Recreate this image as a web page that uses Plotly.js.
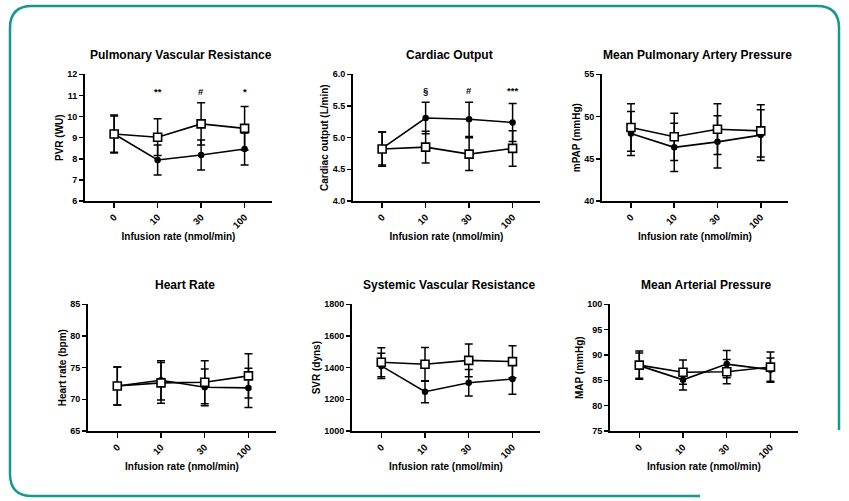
<!DOCTYPE html>
<html><head><meta charset="utf-8">
<script src="https://cdn.plot.ly/plotly-3.0.1.min.js"></script>
<style>html,body{margin:0;padding:0;background:#fff}#chart{width:849px;height:501px}</style>
</head><body><div id="chart"></div>
<script>
const categories = ['0', '10', '30', '100'];
const xTitle = 'Infusion rate (nmol/min)';

const pvrOpen = [9.17, 9.02, 9.65, 9.44];
const pvrOpenErr = [0.86, 0.87, 1.0, 1.03];
const pvrFilled = [9.17, 7.94, 8.18, 8.46];
const pvrFilledErr = [0.9, 0.71, 0.71, 0.76];
const pvrSig = ['', '**', '#', '*'];

const coOpen = [4.82, 4.85, 4.74, 4.83];
const coOpenErr = [0.27, 0.25, 0.26, 0.28];
const coFilled = [4.83, 5.31, 5.29, 5.24];
const coFilledErr = [0.26, 0.25, 0.27, 0.30];
const coSig = ['', '§', '#', '***'];

const mpapOpen = [48.7, 47.6, 48.5, 48.3];
const mpapOpenErr = [2.8, 2.8, 3.0, 3.1];
const mpapFilled = [48.0, 46.35, 47.0, 47.8];
const mpapFilledErr = [2.6, 2.85, 3.1, 3.0];

const hrOpen = [72.1, 72.6, 72.7, 73.7];
const hrOpenErr = [3.0, 3.2, 3.4, 3.5];
const hrFilled = [72.1, 73.0, 71.9, 71.8];
const hrFilledErr = [3.0, 3.1, 2.9, 3.1];

const svrOpen = [1434, 1421, 1446, 1438];
const svrOpenErr = [92, 107, 103, 101];
const svrFilled = [1411, 1248, 1305, 1328];
const svrFilledErr = [80, 69, 84, 96];

const mapOpen = [88.0, 86.6, 86.7, 87.6];
const mapOpenErr = [2.8, 2.4, 2.4, 3.0];
const mapFilled = [87.9, 85.1, 88.2, 87.1];
const mapFilledErr = [2.5, 2.0, 2.7, 2.3];

const W = 849, H = 501;
const FONT = 'Liberation Sans, Arial, sans-serif';

const panels = [
  {title: 'Pulmonary Vascular Resistance', ytitle: 'PVR (WU)', open: pvrOpen, openErr: pvrOpenErr, filled: pvrFilled, filledErr: pvrFilledErr, range: [6, 12], dtick: 1, fmt: '', sig: pvrSig, sigY: 11.2, px: [85, 272], py: [74.3, 201]},
  {title: 'Cardiac Output', ytitle: 'Cardiac output (L/min)', open: coOpen, openErr: coOpenErr, filled: coFilled, filledErr: coFilledErr, range: [4, 6], dtick: 0.5, fmt: '.1f', sig: coSig, sigY: 5.75, px: [353, 540], py: [74.3, 201]},
  {title: 'Mean Pulmonary Artery Pressure', ytitle: 'mPAP (mmHg)', open: mpapOpen, openErr: mpapOpenErr, filled: mpapFilled, filledErr: mpapFilledErr, range: [40, 55], dtick: 5, fmt: '', sig: null, px: [602, 788], py: [74.3, 201]},
  {title: 'Heart Rate', ytitle: 'Heart rate (bpm)', open: hrOpen, openErr: hrOpenErr, filled: hrFilled, filledErr: hrFilledErr, range: [65, 85], dtick: 5, fmt: '', sig: null, px: [88, 276], py: [304.3, 431]},
  {title: 'Systemic Vascular Resistance', ytitle: 'SVR (dyns)', open: svrOpen, openErr: svrOpenErr, filled: svrFilled, filledErr: svrFilledErr, range: [1000, 1800], dtick: 200, fmt: '', sig: null, px: [352, 540], py: [304.3, 431]},
  {title: 'Mean Arterial Pressure', ytitle: 'MAP (mmHg)', open: mapOpen, openErr: mapOpenErr, filled: mapFilled, filledErr: mapFilledErr, range: [75, 100], dtick: 5, fmt: '', sig: null, px: [610, 798], py: [304.3, 431]}
];

const xs = categories.map((c, i) => i);
const traces = [];
const annotations = [];
const layout = {
  width: W, height: H,
  margin: {l: 0, r: 0, t: 0, b: 0},
  paper_bgcolor: '#fff', plot_bgcolor: 'rgba(0,0,0,0)',
  showlegend: false,
  font: {family: FONT, color: '#000'},
  annotations: annotations,
  shapes: []
};

panels.forEach((p, k) => {
  const n = k === 0 ? '' : String(k + 1);
  const xa = 'x' + n, ya = 'y' + n;
  const line = {color: '#000', width: 1.6};
  traces.push({
    x: xs, y: p.filled, xaxis: xa, yaxis: ya, type: 'scatter', mode: 'lines+markers',
    line: line, marker: {symbol: 'circle', size: 6.5, color: '#000'},
    error_y: {type: 'data', array: p.filledErr, visible: true, color: '#000', thickness: 1.5, width: 4},
    cliponaxis: false
  });
  traces.push({
    x: xs, y: p.open, xaxis: xa, yaxis: ya, type: 'scatter', mode: 'lines+markers',
    line: line, marker: {symbol: 'square', size: 8, color: '#fff', line: {color: '#000', width: 1.6}},
    error_y: {type: 'data', array: p.openErr, visible: true, color: '#000', thickness: 1.5, width: 4},
    cliponaxis: false
  });
  layout['xaxis' + n] = {
    domain: [p.px[0] / W, p.px[1] / W], anchor: ya,
    range: [-0.67, 3.63], tickvals: xs, ticktext: categories, tickangle: -45,
    showline: true, linewidth: 2, linecolor: '#000', mirror: false,
    ticks: 'outside', ticklen: 5, tickwidth: 1.5, tickcolor: '#000',
    showgrid: false, zeroline: false, fixedrange: true,
    tickfont: {family: FONT, size: 9.5, color: '#000', weight: 'bold'},
    title: {text: '<b>' + xTitle + '</b>', font: {family: FONT, size: 10, color: '#000'}, standoff: 2}
  };
  layout['yaxis' + n] = {
    domain: [1 - p.py[1] / H, 1 - p.py[0] / H], anchor: xa,
    range: p.range, dtick: p.dtick, tick0: p.range[0], tickformat: p.fmt,
    showline: true, linewidth: 2, linecolor: '#000',
    ticks: 'outside', ticklen: 4, tickwidth: 1.5, tickcolor: '#000',
    showgrid: false, zeroline: false, fixedrange: true,
    tickfont: {family: FONT, size: 9, color: '#000', weight: 'bold'},
    title: {text: '<b>' + p.ytitle + '</b>', font: {family: FONT, size: 10, color: '#000'}, standoff: 2}
  };
  annotations.push({
    xref: 'paper', yref: 'paper', x: (p.px[0] + p.px[1]) / 2 / W + 0.003, y: 1 - (p.py[0] - 19) / H,
    text: '<b>' + p.title + '</b>', showarrow: false, xanchor: 'center', yanchor: 'middle',
    font: {family: FONT, size: 12, color: '#000'}
  });
  if (p.sig) {
    p.sig.forEach((s, i) => {
      if (!s) return;
      annotations.push({
        xref: xa, yref: ya, x: xs[i], y: p.sigY, text: '<b>' + s + '</b>', showarrow: false,
        xanchor: 'center', yanchor: 'middle', font: {family: FONT, size: 9.5, color: '#000'}
      });
    });
  }
});

function P(x, y) { return (x / W).toFixed(5) + ',' + (1 - y / H).toFixed(5); }
const L = 10, T = 6, R = 839, B = 496, r = 22;
const path = 'M' + P(700, B) + ' L' + P(L + r, B) + ' Q' + P(L, B) + ' ' + P(L, B - r) +
  ' L' + P(L, T + r) + ' Q' + P(L, T) + ' ' + P(L + r, T) +
  ' L' + P(R - r, T) + ' Q' + P(R, T) + ' ' + P(R, T + r) +
  ' L' + P(R, 430);
layout.shapes.push({type: 'path', xref: 'paper', yref: 'paper', path: path, line: {color: '#17988f', width: 2.5}, layer: 'below'});

Plotly.newPlot('chart', traces, layout, {staticPlot: true, displayModeBar: false});
</script>
</body></html>
